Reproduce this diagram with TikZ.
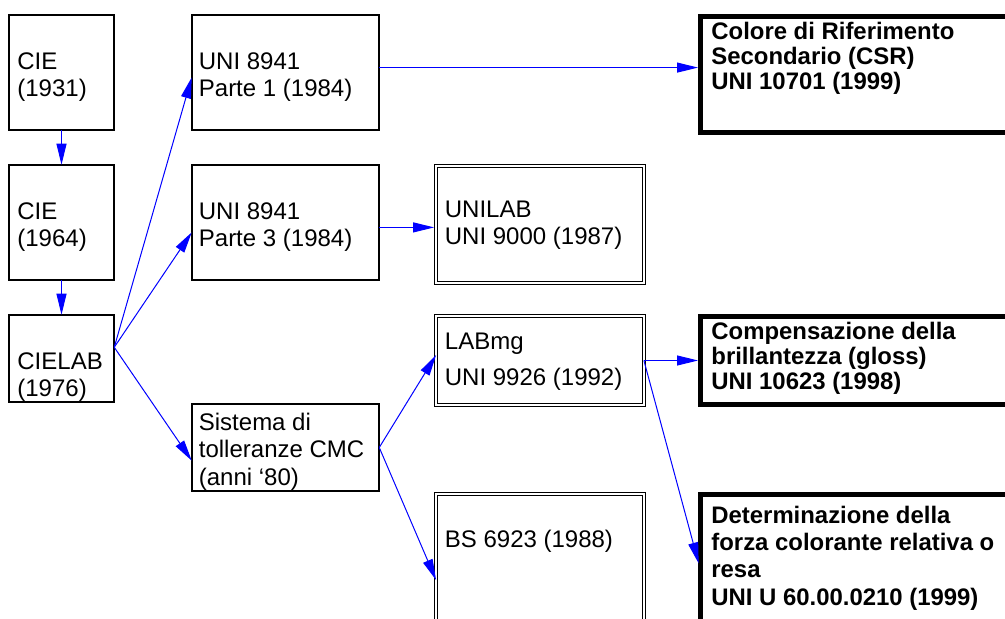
\documentclass[tikz,border=0pt]{standalone}
\usepackage{fontspec}
\setmainfont{Liberation Sans}
\usetikzlibrary{arrows.meta,positioning}
\tikzset{
  basic/.style  = {draw, rectangle, outer sep=0pt, inner sep=0pt},
  plain/.style  = {basic, line width=0.8pt},
  twin/.style   = {basic, line width=0.7pt, double, double distance=0.7pt},
  heavy/.style  = {basic, line width=2.5pt},
  txt/.style    = {anchor=base west, inner sep=0pt, align=left,
                   font=\fontsize{12pt}{13.5pt}\selectfont},
  btxt/.style   = {txt, font=\fontsize{11.95pt}{12.5pt}\selectfont\bfseries},
  link/.style   = {->, blue, line width=0.5pt}
}

\begin{document}
\begin{tikzpicture}[x=0.5pt, y=-0.5pt,
    >={Triangle[length=10.5pt,width=5pt]}]

  \clip (0,0) rectangle (1005,619);

% first column
  \node[plain, minimum width=52.75pt, minimum height=57.75pt] (cie31) at (61.5,72.5) {};
  \node[plain, minimum width=52.75pt, minimum height=57.75pt] (cie64) at (61.5,222.5) {};
  \node[plain, minimum width=52.75pt, minimum height=43.75pt] (cielab) at (61.5,358.5) {};

% second column
  \node[plain, minimum width=93.75pt, minimum height=57.75pt] (p1) at (285.5,72.5) {};
  \node[plain, minimum width=93.75pt, minimum height=57.75pt] (p3) at (285.5,222.5) {};
  \node[plain, minimum width=93.75pt, minimum height=43.75pt] (sist) at (285.5,447.5) {};

% double framed boxes
  \node[twin, minimum width=103.9pt, minimum height=58.4pt] (unilab) at (540,224.5) {};
  \node[twin, minimum width=103.9pt, minimum height=44.4pt] (labmg) at (540,360.5) {};
  \node[twin, minimum width=103.9pt, minimum height=111.9pt] (bs) at (540,606) {};

% heavy framed boxes, right column
  \node[heavy, minimum width=168.5pt, minimum height=58pt] (csr) at (869,74.5) {};
  \node[heavy, minimum width=168.5pt, minimum height=44pt] (comp) at (869,360.5) {};
  \node[heavy, minimum width=168.5pt, minimum height=111.5pt] (det) at (869,606) {};

% texts (placed on the baseline of their last line)
  \node[txt] at (17,97) {CIE\\(1931)};
  \node[txt] at (17,247) {CIE\\(1964)};
  \node[txt] at (17,397) {CIELAB\\(1976)};
  \node[txt] at (198.5,97) {UNI 8941\\Parte 1 (1984)};
  \node[txt] at (198.5,247) {UNI 8941\\Parte 3 (1984)};
  \node[txt, font=\fontsize{12pt}{13.75pt}\selectfont] at (198.5,485) {Sistema di\\tolleranze CMC\\(anni ‘80)};
  \node[txt] at (444.5,245) {UNILAB\\UNI 9000 (1987)};
  \node[txt] at (444.5,386) {LABmg\\[4.5pt]UNI 9926 (1992)};
  \node[txt] at (444.5,547) {BS 6923 (1988)};
  \node[btxt] at (711,90) {Colore di Riferimento\\Secondario (CSR)\\UNI 10701 (1999)};
  \node[btxt] at (711,390) {Compensazione della\\brillantezza (gloss)\\UNI 10623 (1998)};
  \node[btxt, font=\fontsize{11.95pt}{13.6pt}\selectfont\bfseries] at (711,605) {Determinazione della\\forza colorante relativa o\\resa\\UNI U 60.00.0210 (1999)};

% connectors
  \draw[link] (cie31.south) -- (cie64.north);
  \draw[link] (cie64.south) -- (cielab.north);

  \foreach \target/\ang in {p1/183, p3/186, sist/188}
    \draw[link] (cielab.12) -- (\target.\ang);

  \draw[link, shorten >=1.25pt] (p1.3) -- (p1.3 -| csr.west);
  \draw[link, shorten >=1pt] (p3.-3) -- (p3.-3 -| unilab.west);

  \draw[link] (sist.east) -- (labmg.177);
  \draw[link] (sist.east) -- (bs.166);

  \draw[link, shorten >=1.25pt] (labmg.east) -- (labmg.east -| comp.west);
  \draw[link, shorten >=3.5pt] (labmg.east) -- (det.168);
\end{tikzpicture}
\end{document}
